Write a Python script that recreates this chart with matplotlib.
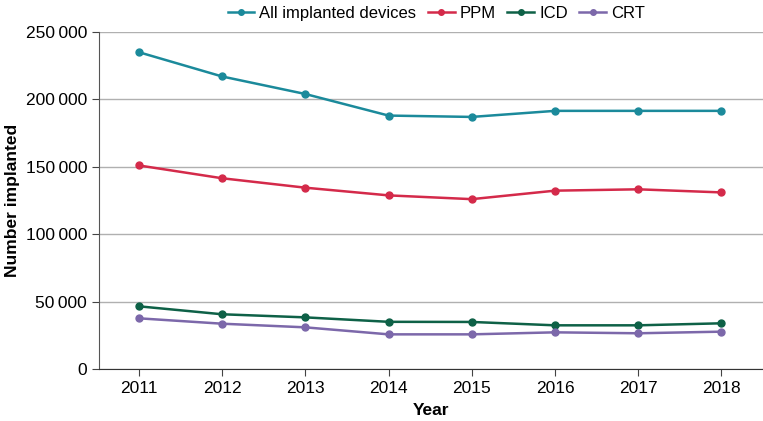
import matplotlib
matplotlib.use("Agg")
import matplotlib.pyplot as plt
from matplotlib.ticker import FuncFormatter

plt.rcParams["font.family"] = ["Liberation Sans", "DejaVu Sans"]

years = [2011, 2012, 2013, 2014, 2015, 2016, 2017, 2018]
all_devices = [235000, 217000, 204000, 188000, 187000, 191500, 191500, 191500]
ppm = [151000, 141500, 134500, 128800, 126000, 132300, 133300, 131000]
icd = [46500, 40600, 38300, 35000, 34900, 32400, 32400, 33900]
crt = [37600, 33600, 30900, 25700, 25700, 27200, 26500, 27700]

series = [
    ("All implanted devices", all_devices, "#1b8a9b"),
    ("PPM", ppm, "#d42a4a"),
    ("ICD", icd, "#0e6147"),
    ("CRT", crt, "#7c68aa"),
]

fig = plt.figure(figsize=(7.63, 4.21), dpi=100)
ax = fig.add_axes([99 / 763, 1 - 369 / 421, 664 / 763, 337 / 421])

for name, vals, col in series:
    ax.plot(years, vals, color=col, lw=1.8, marker="o", ms=5, label=name)

ax.set_xlim(2010.52, 2018.5)
ax.set_ylim(0, 250000)
ax.set_xticks(years)
ax.set_yticks(range(0, 250001, 50000))
ax.yaxis.set_major_formatter(
    FuncFormatter(lambda v, p: f"{int(v):,}".replace(",", "\u2009"))
)
ax.grid(axis="y", color="#b0b0b0", lw=1)
ax.set_axisbelow(True)
for s in ["top", "right"]:
    ax.spines[s].set_visible(False)
ax.spines["left"].set_color("#555555")
ax.spines["bottom"].set_color("#333333")
ax.tick_params(axis="both", labelsize=12.5, color="#444444", length=5)

ax.set_xlabel("Year", fontsize=12.5, fontweight="bold", labelpad=5)
ax.set_ylabel("Number implanted", fontsize=12.5, fontweight="bold", labelpad=4)

ax.legend(
    loc="center", bbox_to_anchor=(0.508, 1.055), ncol=4, frameon=False,
    fontsize=12, handlelength=1.6, columnspacing=0.7, handletextpad=0.3,
    markerscale=0.8, borderpad=0,
)

fig.savefig("out.png", dpi=100)
